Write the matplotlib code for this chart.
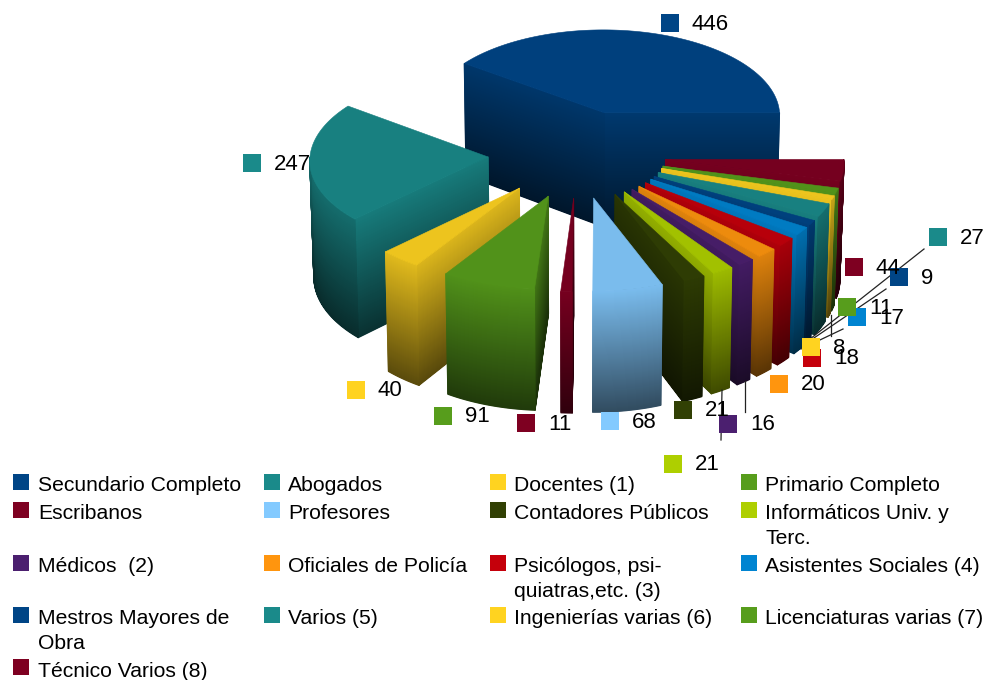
import numpy as np
import matplotlib
matplotlib.use("Agg")
import matplotlib.pyplot as plt
from matplotlib.collections import PolyCollection
from matplotlib.colors import LinearSegmentedColormap

plt.rcParams['font.family'] = ['Liberation Sans', 'DejaVu Sans']

# ---- data ----
categories = ["Secundario Completo", "Abogados", "Docentes (1)", "Primario Completo",
              "Escribanos", "Profesores", "Contadores Públicos", "Informáticos Univ. y\nTerc.",
              "Médicos  (2)", "Oficiales de Policía", "Psicólogos, psi-\nquiatras,etc. (3)",
              "Asistentes Sociales (4)", "Mestros Mayores de\nObra", "Varios (5)",
              "Ingenierías varias (6)", "Licenciaturas varias (7)", "Técnico Varios (8)"]
values = [446, 247, 40, 91, 11, 68, 21, 21, 16, 20, 18, 17, 9, 27, 8, 11, 44]
colors = ["#004586", "#1a8a8a", "#ffd320", "#579d1c", "#7e0021", "#83caff", "#314004", "#aecf00",
          "#4b1f6f", "#ff950e", "#c5000b", "#0084d1", "#004586", "#1a8a8a", "#ffd320", "#579d1c", "#7e0021"]

# ---- layout ----
CX, CY, RX, RY, H = 577, 154, 178, 88, 116
EXPLODE, PERSP, TAPER = 0.5, 0.03, 0.015
label_pos = [(670, 23), (252, 163), (356, 390), (443, 416), (526, 423), (610, 421), (683, 410),
             (673, 464), (728, 424), (779, 384), (812, 358), (857, 317), (899, 277), (938, 237),
             (811, 347), (847, 307), (854, 267)]
leaders = [((924, 249), (805, 343)), ((886, 289), (811, 340)), ((843, 329), (801, 349)),
           ((831, 315), (831, 336)), ((745, 381), (745, 412)), ((722, 390), (721, 440))]
leg_x = [(14, 38), (265, 288), (491, 514), (742, 765)]
leg_rows = [(482, 491), (510, 519), (563, 572), (615, 624), (667, 677)]
leg_grid = [(0, 0), (1, 0), (2, 0), (3, 0), (0, 1), (1, 1), (2, 1), (3, 1), (0, 2), (1, 2), (2, 2), (3, 2),
            (0, 3), (1, 3), (2, 3), (3, 3), (0, 4)]

fig = plt.figure(figsize=(9.99, 6.80), dpi=100)
ax = fig.add_axes([0, 0, 1, 1])
ax.set_xlim(0, 999)
ax.set_ylim(680, 0)
ax.axis('off')

vals = np.array(values, float)
edges = np.concatenate([[0], np.cumsum(vals)]) / vals.sum() * 360


def project(theta, r, z, mid):
    t, m = np.radians(theta), np.radians(mid)
    X = EXPLODE * np.cos(m) + r * np.cos(t)
    Y = EXPLODE * np.sin(m) + r * np.sin(t)
    s = 1 - PERSP * Y
    sz = 1 - TAPER + TAPER * z
    return CX + RX * X * s * sz, CY - RY * Y * s + H * (1 - z) * s


def draw_bands(X, Y, shade, cmap, zo):
    # one closed strip per height band, about a pixel tall, painted from the top down
    polys, cols = [], []
    for r in range(len(shade)):
        top = np.column_stack([X[r], Y[r]])
        bot = np.column_stack([X[r + 1], Y[r + 1]])[::-1]
        polys.append(np.vstack([top, bot]))
        cols.append(cmap(float(shade[r])))
    pc = PolyCollection(polys, facecolors=cols, edgecolors=cols, linewidths=0.7, zorder=zo)
    pc.set_snap(False)
    ax.add_collection(pc)


order = sorted(range(len(vals)), key=lambda i: -np.sin(np.radians((edges[i] + edges[i + 1]) / 2)))
NZ = 120
zz = np.linspace(1, 0, NZ + 1)[:, None]
zc = (zz[:-1] + zz[1:]).ravel() / 2
zo = 2
for i in order:
    a0, a1 = edges[i], edges[i + 1]
    mid = (a0 + a1) / 2
    cmap = LinearSegmentedColormap.from_list(f"c{i}", ["black", colors[i]], N=1024)
    damp = 0.88 if i == 0 else 1.0
    # straight cut faces that face the viewer
    for ang, nrm in ((a0, a0 - 90), (a1, a1 + 90)):
        if np.sin(np.radians(nrm)) < -1e-9:
            X, Y = project(np.array([[ang, ang]]), np.array([[0.0, 1.0]]), zz, mid)
            lam = 0.82 + 0.18 * abs(np.sin(np.radians(nrm)))
            draw_bands(X, Y, (0.38 + 0.56 * zc) * lam * damp, cmap, zo)
            zo += 1
    # curved outer face, front half only
    phi = np.linspace(a0, a1, max(int(a1 - a0) * 2, 8))
    vis = phi[np.sin(np.radians(phi)) <= 0.0]
    if vis.size > 1:
        X, Y = project(vis[None, :], np.ones((1, vis.size)), zz, mid)
        lam = 0.75 + 0.25 * np.abs(np.sin(np.radians(vis))).mean()
        draw_bands(X, Y, (0.38 + 0.56 * zc) * lam * damp, cmap, zo)
        zo += 1
    # top face
    tx, ty = project(np.r_[a0, phi], np.r_[0, np.ones_like(phi)], 1.0, mid)
    ax.fill(tx, ty, color=cmap(0.93), lw=0.4, zorder=zo)
    zo += 1

# leader lines
for (p, q) in leaders:
    ax.plot([p[0], q[0]], [p[1], q[1]], color="#222222", lw=0.9, zorder=500)

# data labels
for i, (x, y) in enumerate(label_pos):
    ax.add_patch(plt.Rectangle((x - 9, y - 9), 18, 18, fc=colors[i], ec='none', zorder=600 + i))
    ax.text(x + 22, y + 1, str(values[i]), fontsize=16, va='center', ha='left', color='black', zorder=640)

# legend
for i, name in enumerate(categories):
    c, r = leg_grid[i]
    sx, tx = leg_x[c]
    sy, base = leg_rows[r]
    ax.add_patch(plt.Rectangle((sx - 1, sy - 8), 16, 16, fc=colors[i], ec='none', zorder=700))
    for k, line in enumerate(name.split("\n")):
        ax.text(tx, base + 25 * k, line, fontsize=15.2, va='baseline', ha='left', color='black', zorder=700)

fig.savefig("out.png", dpi=100)
